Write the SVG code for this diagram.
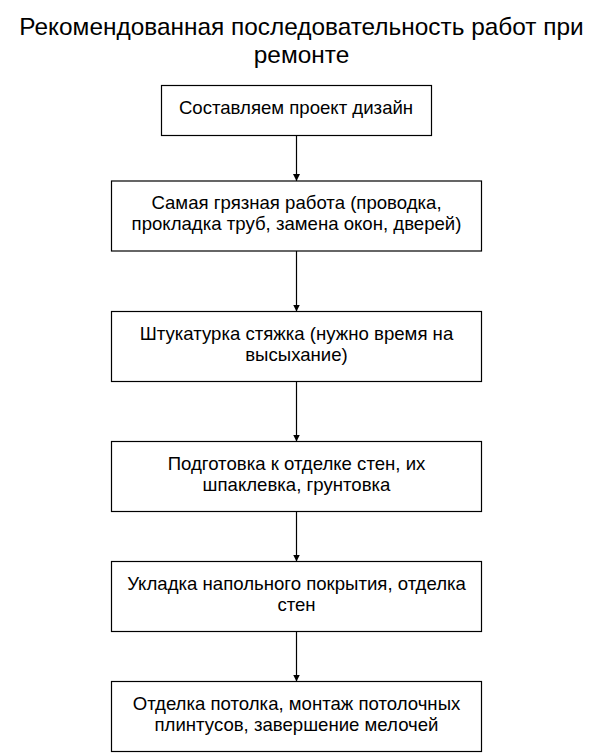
<svg xmlns="http://www.w3.org/2000/svg" width="604" height="754" viewBox="0 0 604 754">
<style>
.bg{fill:#fff}
.box{fill:#fff;stroke:#000;stroke-width:1.2}
.t{font-family:"Liberation Sans",Arial,sans-serif;font-size:18.6px;fill:#000;text-anchor:middle}
.title{font-family:"Liberation Sans",Arial,sans-serif;font-size:24.4px;fill:#000;text-anchor:middle}
.edge{stroke:#000;stroke-width:1.2;fill:none;marker-end:url(#ah)}
</style>
<defs>
<marker id="ah" markerWidth="8" markerHeight="8" refX="7" refY="4" orient="auto" markerUnits="userSpaceOnUse">
<path d="M0,0.5 L7,4 L0,7.5 Z" fill="#000"/>
</marker>
</defs>
<rect class="bg" x="0" y="0" width="604" height="754"/>
<g id="title">
<text class="title" x="301.5" y="35">Рекомендованная последовательность работ при</text>
<text class="title" x="301.5" y="63">ремонте</text>
</g>
<g id="connectors">
<line class="edge" x1="296.5" y1="136" x2="296.5" y2="181"/>
<line class="edge" x1="296.5" y1="251" x2="296.5" y2="311.5"/>
<line class="edge" x1="296.5" y1="381.5" x2="296.5" y2="441.5"/>
<line class="edge" x1="296.5" y1="511.5" x2="296.5" y2="561.5"/>
<line class="edge" x1="296.5" y1="631.5" x2="296.5" y2="681.5"/>
</g>
<g id="n1">
<rect class="box" x="161.5" y="85.5" width="270" height="50"/>
<text class="t" x="296" y="114">Составляем проект дизайн</text>
</g>
<g id="n2">
<rect class="box" x="111.5" y="181" width="370" height="70"/>
<text class="t" x="296.5" y="209">Самая грязная работа (проводка,</text>
<text class="t" x="296.5" y="230">прокладка труб, замена окон, дверей)</text>
</g>
<g id="n3">
<rect class="box" x="111.5" y="311.5" width="370" height="70"/>
<text class="t" x="296.5" y="339.5">Штукатурка стяжка (нужно время на</text>
<text class="t" x="296.5" y="360.5">высыхание)</text>
</g>
<g id="n4">
<rect class="box" x="111.5" y="441.5" width="370" height="70"/>
<text class="t" x="296.5" y="469.5">Подготовка к отделке стен, их</text>
<text class="t" x="296.5" y="490.5">шпаклевка, грунтовка</text>
</g>
<g id="n5">
<rect class="box" x="111.5" y="561.5" width="370" height="70"/>
<text class="t" x="296.5" y="589.5">Укладка напольного покрытия, отделка</text>
<text class="t" x="296.5" y="610.5">стен</text>
</g>
<g id="n6">
<rect class="box" x="111.5" y="681.5" width="370" height="70"/>
<text class="t" x="296.5" y="709.5">Отделка потолка, монтаж потолочных</text>
<text class="t" x="296.5" y="730.5">плинтусов, завершение мелочей</text>
</g>
</svg>
